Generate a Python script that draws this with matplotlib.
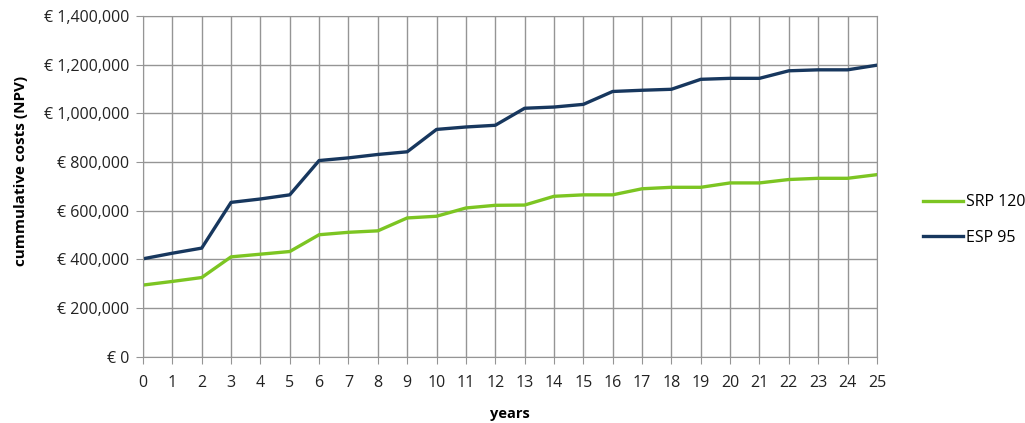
import matplotlib
matplotlib.use("Agg")
import matplotlib.pyplot as plt
from matplotlib.ticker import FuncFormatter

years = list(range(0, 26))
srp_120 = [294000, 309000, 325000, 410000, 421000, 432000, 501000, 511000, 517000,
           570000, 577000, 611000, 622000, 623000, 659000, 665000, 665000, 690000,
           696000, 696000, 714000, 714000, 728000, 733000, 733000, 748000]
esp_95 = [402000, 425000, 446000, 634000, 648000, 665000, 806000, 817000, 831000,
          842000, 934000, 944000, 951000, 1021000, 1026000, 1037000, 1090000, 1095000,
          1099000, 1140000, 1144000, 1144000, 1175000, 1179000, 1179000, 1198000]
series_names = ["SRP 120", "ESP 95"]

plt.rcParams['font.family'] = ['Open Sans', 'DejaVu Sans']

fig = plt.figure(figsize=(10.25, 4.23), dpi=100, facecolor='white')
ax = fig.add_axes([0.1395, 0.157, 0.716, 0.805])

ax.plot(years, srp_120, color='#7cc522', linewidth=2.4, label=series_names[0])
ax.plot(years, esp_95, color='#17375e', linewidth=2.4, label=series_names[1])

ax.set_xlim(0, 25)
ax.set_ylim(0, 1400000)
ax.set_xticks(years)
ax.set_yticks(range(0, 1400001, 200000))


def euro(v, pos):
    return '€ {:,.0f}'.format(v)


ax.yaxis.set_major_formatter(FuncFormatter(euro))
ax.grid(True, color='#959595', linewidth=1.0)
ax.set_axisbelow(True)
for s in ax.spines.values():
    s.set_color('#959595')
ax.tick_params(axis='both', colors='#959595', labelcolor='#222222', labelsize=11.5, length=5)
ax.tick_params(axis='y', pad=5)
ax.tick_params(axis='x', pad=8)

ax.set_xlabel('years', fontweight='bold', fontsize=10.5, labelpad=12)
ax.set_ylabel('cummulative costs (NPV)', fontweight='bold', fontsize=11)
# label sits a bit above the middle of the plot, like the original
ax.yaxis.set_label_coords(-0.157, 0.545)

fig.legend(loc='center left', bbox_to_anchor=(0.893, 0.48), frameon=False, borderpad=0,
           fontsize=11.5, handlelength=2.5, handletextpad=0.15, labelspacing=1.2)

fig.savefig('out.png', dpi=100)
